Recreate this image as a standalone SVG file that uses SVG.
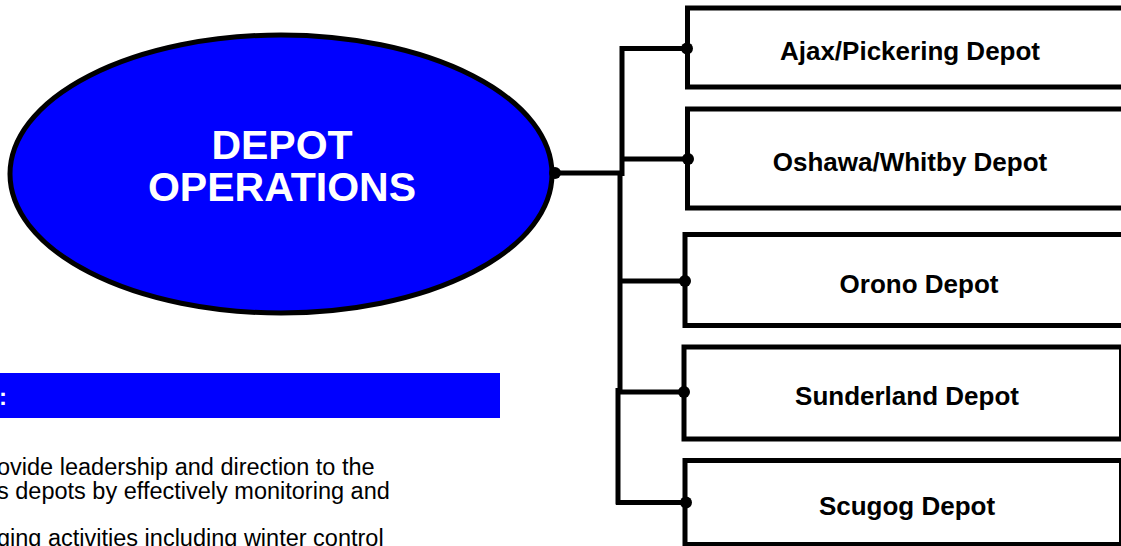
<svg xmlns="http://www.w3.org/2000/svg" width="1121" height="546" viewBox="0 0 1121 546">
<style>
.box{fill:#fff;stroke:#000;stroke-width:5}
.lbl{font-family:"Liberation Sans",Arial,sans-serif;font-weight:bold;font-size:26px;fill:#000;text-anchor:middle}
.con{fill:none;stroke:#000;stroke-width:5}
.body{font-family:"Liberation Sans",Arial,sans-serif;font-size:23.5px;fill:#000}
.title{font-family:"Liberation Sans",Arial,sans-serif;font-weight:bold;font-size:41px;fill:#fff;text-anchor:middle}
</style>
<rect width="1121" height="546" fill="#fff"/>
<g id="depot-operations">
<ellipse cx="281" cy="174" rx="271" ry="139" fill="#0000FF" stroke="#000" stroke-width="5"/>
<text class="title" x="282" y="159">DEPOT</text>
<text class="title" x="282" y="201">OPERATIONS</text>
</g>
<g id="ajax">
<rect class="box" x="687.5" y="8" width="440" height="79"/>
<text class="lbl" x="910" y="60">Ajax/Pickering Depot</text>
</g>
<g id="oshawa">
<rect class="box" x="687.5" y="109" width="440" height="99"/>
<text class="lbl" x="910" y="171">Oshawa/Whitby Depot</text>
</g>
<g id="orono">
<rect class="box" x="685" y="234.5" width="440" height="91"/>
<text class="lbl" x="919" y="293">Orono Depot</text>
</g>
<g id="sunderland">
<rect class="box" x="684" y="347" width="437.5" height="92"/>
<text class="lbl" x="907" y="405">Sunderland Depot</text>
</g>
<g id="scugog">
<rect class="box" x="685" y="460.5" width="436.5" height="84"/>
<text class="lbl" x="907" y="515">Scugog Depot</text>
</g>
<g id="connectors">
<path class="con" d="M555,173 H624"/>
<path class="con" d="M622,46 V176"/>
<path class="con" d="M620,173 V391"/>
<path class="con" d="M618,388 V504.5"/>
<path class="con" stroke-width="4" d="M620,48.5 H687"/>
<path class="con" stroke-width="4" d="M622,159 H688"/>
<path class="con" stroke-width="4" d="M620,281 H685"/>
<path class="con" stroke-width="4" d="M618,392 H684"/>
<path class="con" stroke-width="4" d="M616,502.5 H686"/>
<circle cx="555" cy="173" r="6"/>
<circle cx="687" cy="48.5" r="6"/>
<circle cx="688" cy="159" r="6"/>
<circle cx="685" cy="281" r="6"/>
<circle cx="684" cy="392" r="6"/>
<circle cx="686" cy="502.5" r="6"/>
</g>
<g id="goal">
<rect x="0" y="373" width="500" height="45" fill="#0000FF"/>
<text x="-1" y="405" font-family="Liberation Sans, Arial, sans-serif" font-weight="bold" font-size="24" fill="#fff">:</text>
<text class="body" x="-3" y="475">ovide leadership and direction to the</text>
<text class="body" x="-3" y="499">s depots by effectively monitoring and</text>
<text class="body" x="-3" y="546">ging activities including winter control</text>
</g>
</svg>
